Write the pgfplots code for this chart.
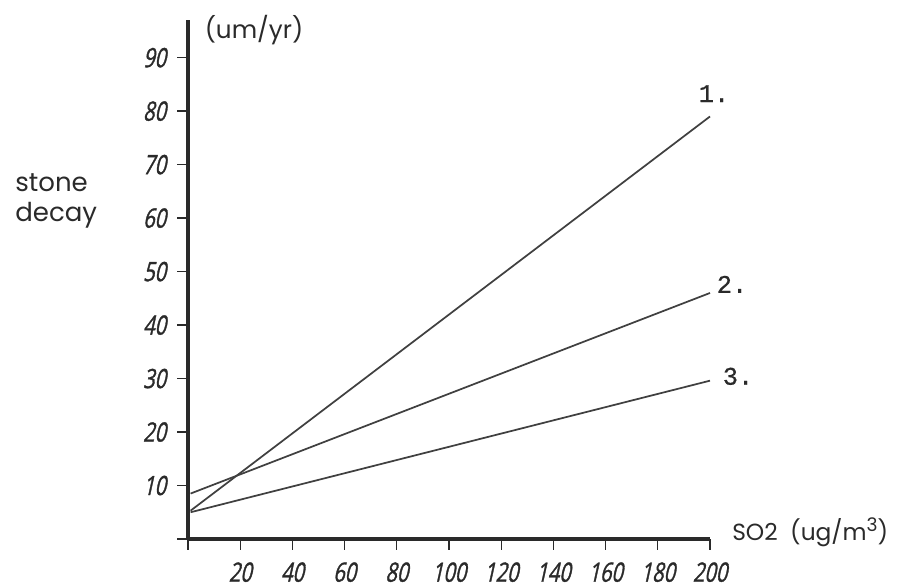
\documentclass[border=0pt]{standalone}
\usepackage{fontspec}
\usepackage{pgfplots}
\pgfplotsset{compat=1.18}
\setmainfont{Poppins}
\newfontfamily\tickfont[FakeSlant=0.22, FakeStretch=0.75, FakeBold=1.2]{Open Sans}
\newfontfamily\numfont[FakeBold=0.8]{Liberation Mono}
\definecolor{ink}{HTML}{2A2A2A}
\definecolor{pen}{HTML}{404040}

\begin{document}
\begin{tikzpicture}
\useasboundingbox (-141pt,-36.75pt) rectangle (534pt,404.25pt);
\begin{axis}[
  at={(0pt,0pt)}, anchor=south west,
  scale only axis, width=391.5pt, height=389.1pt,
  xmin=0, xmax=200, ymin=0, ymax=97,
  axis x line=bottom, axis y line=left,
  axis line style={-, line width=3pt, ink},
  xtick={0,20,...,200}, xticklabels={,20,40,60,80,100,120,140,160,180,200},
  ytick={0,10,...,90}, yticklabels={,10,20,30,40,50,60,70,80,90},
  tick align=outside, major tick length=8pt,
  tick style={line width=1pt, ink},
  ticklabel style={font=\tickfont\fontsize{20}{22}\selectfont, text=ink},
  xticklabel style={yshift=-6pt},
  yticklabel style={xshift=-5pt},
  /pgf/number format/assume math mode=true,
  clip=false,
]
\addplot[line width=1.3pt, pen] coordinates {(1,5.3) (200,79)};
\addplot[line width=1.3pt, pen] coordinates {(1,8.5) (200,46)};
\addplot[line width=1.3pt, pen] coordinates {(1,5) (200,29.6)};
\end{axis}
\node[font=\fontsize{18.5}{22}\selectfont, text=ink] at (49.5pt,381.75pt) {(um/yr)};
\node[font=\fontsize{19.5}{22}\selectfont, text=ink, anchor=west] at (-133pt,267pt) {stone};
\node[font=\fontsize{19.5}{22}\selectfont, text=ink, anchor=west] at (-133pt,243pt) {decay};
\node[font=\fontsize{17.5}{22}\selectfont, text=ink, anchor=west, inner sep=0pt] at (408pt,5pt) {SO2\ \ (ug/m\raisebox{0.42em}{\fontsize{14}{16}\selectfont 3})};
\node[font=\numfont\fontsize{19}{20}\selectfont, text=ink] at (394.5pt,334pt) {1.};
\node[font=\numfont\fontsize{19}{20}\selectfont, text=ink] at (408pt,191pt) {2.};
\node[font=\numfont\fontsize{19}{20}\selectfont, text=ink] at (412.5pt,122pt) {3.};
\end{tikzpicture}
\end{document}
